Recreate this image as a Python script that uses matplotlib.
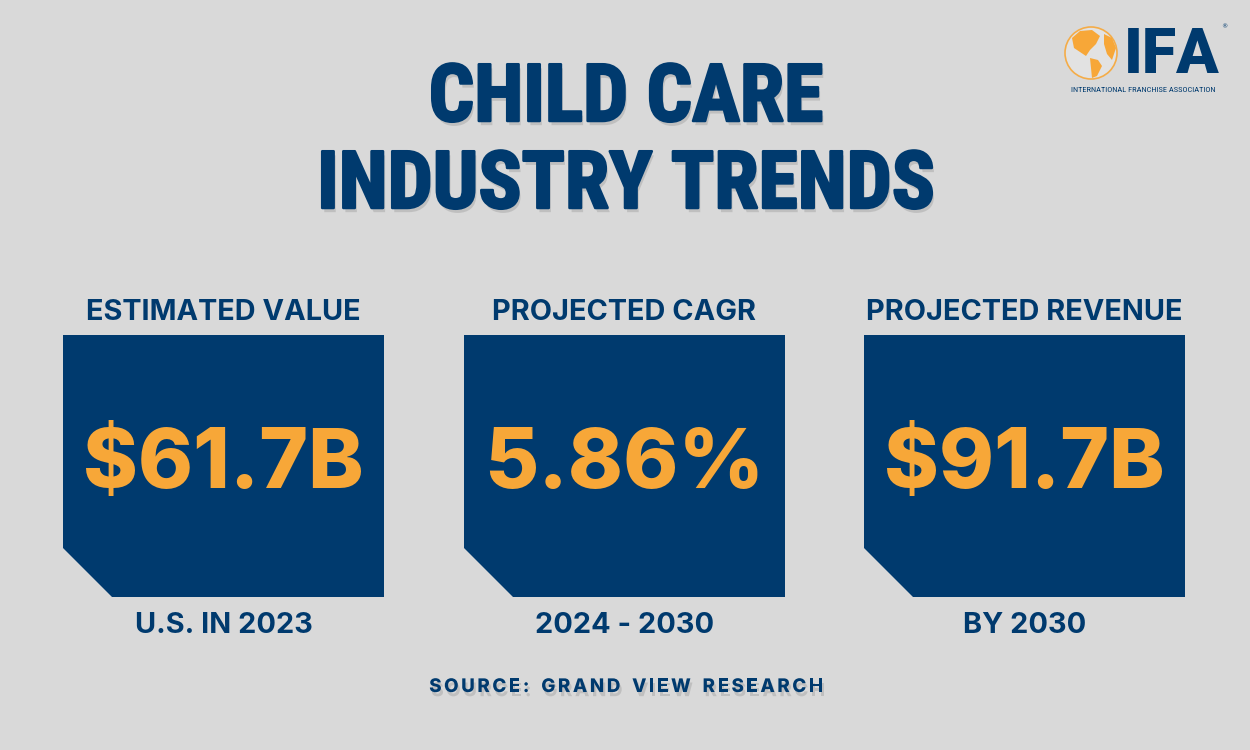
import matplotlib.pyplot as plt
from matplotlib.patches import Polygon, Circle
import matplotlib.patheffects as pe

# data
headers = ['ESTIMATED VALUE', 'PROJECTED CAGR', 'PROJECTED REVENUE']
values = ['$61.7B', '5.86%', '$91.7B']
footers = ['U.S. IN 2023', '2024 - 2030', 'BY 2030']
title_lines = ['CHILD CARE', 'INDUSTRY TRENDS']
source = 'SOURCE: GRAND VIEW RESEARCH'

bg = '#d9d9d9'
navy = '#003a6e'
orange = '#f7a738'

fig = plt.figure(figsize=(12.5, 7.5), dpi=100, facecolor=bg)
ax = fig.add_axes([0, 0, 1, 1])
ax.set_xlim(0, 1250)
ax.set_ylim(750, 0)
ax.axis('off')

title_font = ['Roboto Condensed', 'DejaVu Sans']
body_font = ['Inter', 'DejaVu Sans']

shadow = [pe.withSimplePatchShadow(offset=(1.5, -3), shadow_rgbFace='#666666', alpha=0.22)]
heavy = [pe.withSimplePatchShadow(offset=(1.5, -3), shadow_rgbFace='#666666', alpha=0.22),
         pe.withStroke(linewidth=1.8, foreground=navy)]

# title
ax.text(626, 121, title_lines[0], ha='center', va='baseline', fontsize=57.5,
        fontweight='bold', color=navy, family=title_font, path_effects=heavy)
ax.text(626, 208, title_lines[1], ha='center', va='baseline', fontsize=57.5,
        fontweight='bold', color=navy, family=title_font, path_effects=heavy)

# boxes
box_left = [63, 464, 864]
box_w, box_top, box_bot, cut = 321, 335, 597, 49

for i, x0 in enumerate(box_left):
    pts = [(x0, box_top), (x0 + box_w, box_top), (x0 + box_w, box_bot),
           (x0 + cut, box_bot), (x0, box_bot - cut)]
    ax.add_patch(Polygon(pts, closed=True, facecolor=navy, edgecolor='none'))
    cx = x0 + box_w / 2
    ax.text(cx, 320, headers[i], ha='center', va='baseline', fontsize=20.8,
            fontweight=700, color=navy, family=body_font)
    ax.text(cx, 488, values[i], ha='center', va='baseline', fontsize=60,
            fontweight=800, color=orange, family=body_font)
    ax.text(cx, 633, footers[i], ha='center', va='baseline', fontsize=20.8,
            fontweight=700, color=navy, family=body_font)

# source line with letter spacing
fig.canvas.draw()
renderer = fig.canvas.get_renderer()
tracking = 2.6
widths = []
for ch in source:
    t = ax.text(0, 0, ch if ch != ' ' else 'n', fontsize=13.5, fontweight=800,
                family=body_font)
    w = t.get_window_extent(renderer).width
    t.remove()
    widths.append(w * 0.55 if ch == ' ' else w)
total = sum(widths) + tracking * (len(source) - 1)
x = 626 - total / 2
for ch, w in zip(source, widths):
    ax.text(x, 692, ch, ha='left', va='baseline', fontsize=13.5, fontweight=800,
            color=navy, family=body_font, path_effects=shadow)
    x += w + tracking

# IFA logo (globe + letters)
ax.add_patch(Circle((1091, 53), 26, facecolor='#e4e4e4', edgecolor=orange, lw=1.2, alpha=0.9))
na = [(1072, 38), (1080, 31), (1092, 30), (1100, 36), (1096, 44), (1090, 50),
      (1086, 56), (1080, 52), (1074, 48)]
sa = [(1090, 58), (1098, 60), (1102, 66), (1097, 76), (1092, 78), (1091, 68)]
eu = [(1104, 34), (1112, 38), (1116, 48), (1112, 60), (1107, 54), (1104, 44)]
for shape in (na, sa, eu):
    ax.add_patch(Polygon(shape, closed=True, facecolor=orange, edgecolor='none'))
ax.text(1124, 73, 'IFA', ha='left', va='baseline', fontsize=45, fontweight=900,
        color=navy, family=['Roboto', 'DejaVu Sans'])
ax.text(1224, 27, '®', ha='center', va='center', fontsize=4.5, color=navy)
ax.text(1143, 90, 'INTERNATIONAL FRANCHISE ASSOCIATION', ha='center', va='center',
        fontsize=6.0, color=navy, family=['Roboto Condensed', 'DejaVu Sans'])

fig.savefig('out.png', dpi=100, facecolor=bg)
